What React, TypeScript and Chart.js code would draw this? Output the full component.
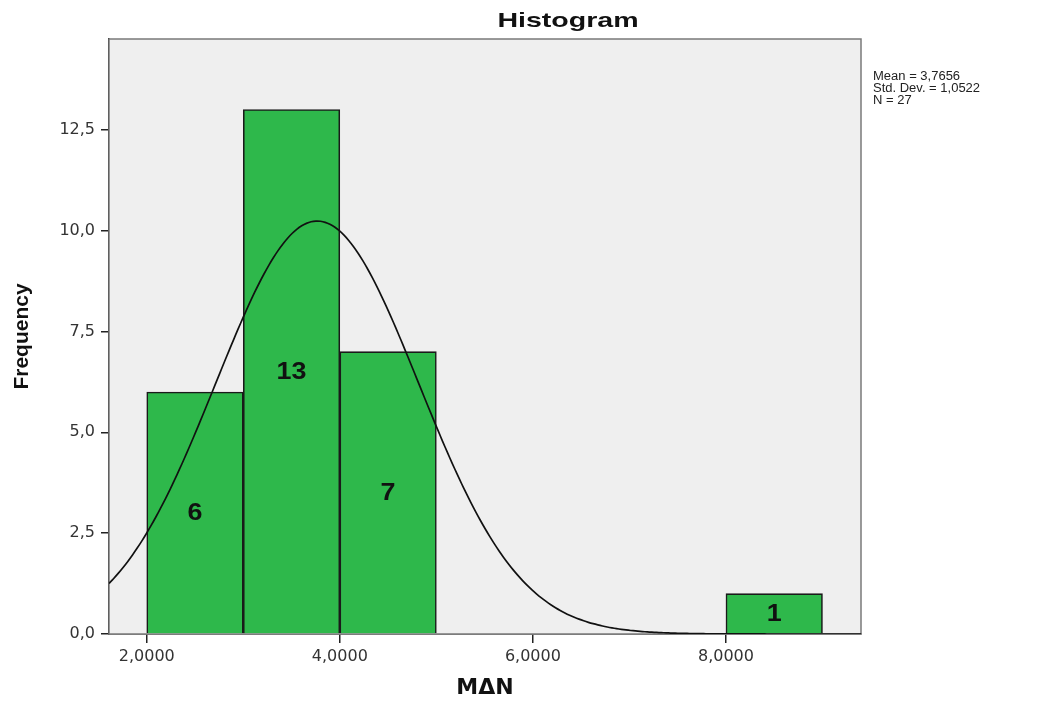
import React, { useEffect, useRef } from "react";
import { Chart, registerables } from "chart.js";

Chart.register(...registerables);

// Histogram bins (bin centres) and counts
const binCenters = [2.5, 3.5, 4.5, 8.5];
const binCounts = [6, 13, 7, 1];
// Summary statistics shown in the chart
const statMean = 3.7656;
const statSD = 1.0522;
const statN = 27;
const binWidth = 1;
// Axis ticks
const xTicks = [2, 4, 6, 8];
const yTicks = [0, 2.5, 5, 7.5, 10, 12.5];
const xMin = 1.609;
const xMax = 9.399;
const yMax = 14.75;
const statLines = ["Mean = 3,7656", "Std. Dev. = 1,0522", "N = 27"];

// Fitted normal curve from the displayed mean / SD / N
const curveXs: number[] = [];
for (let i = 0; i <= 160; i++) curveXs.push(xMin + ((xMax - xMin) * i) / 160);
const curvePoints = curveXs.map((x) => {
  const z = (x - statMean) / statSD;
  return { x, y: (statN * binWidth * Math.exp(-0.5 * z * z)) / (statSD * Math.sqrt(2 * Math.PI)) };
});

const FONT = "Arial, 'Liberation Sans', sans-serif";
const WIDE = "'DejaVu Sans', sans-serif";

function stretchedText(ctx: any, text: string, x: number, y: number, sx: number, align: string) {
  ctx.save();
  ctx.translate(x, y);
  ctx.scale(sx, 1);
  ctx.textAlign = align;
  ctx.fillText(text, 0, 0);
  ctx.restore();
}

const decorPlugin = {
  id: "decor",
  beforeDatasetsDraw(chart: any) {
    const { ctx, chartArea: a } = chart;
    ctx.save();
    ctx.fillStyle = "#efefef";
    ctx.fillRect(a.left, a.top, a.right - a.left, a.bottom - a.top);
    ctx.strokeStyle = "#7a7a7a";
    ctx.lineWidth = 1.5;
    ctx.strokeRect(a.left, a.top, a.right - a.left, a.bottom - a.top);
    ctx.restore();
  },
  afterDraw(chart: any) {
    const { ctx } = chart;
    ctx.save();
    // bar labels
    const meta = chart.getDatasetMeta(0);
    ctx.fillStyle = "#111";
    ctx.font = `bold 24px ${FONT}`;
    ctx.textBaseline = "middle";
    meta.data.forEach((bar: any, i: number) => {
      const yMid = (bar.y + bar.base) / 2;
      stretchedText(ctx, String(binCounts[i]), bar.x, yMid + 1, 1.12, "center");
    });
    // title
    ctx.font = `bold 21px ${FONT}`;
    ctx.fillStyle = "#111";
    stretchedText(ctx, "Histogram", 568, 21, 1.36, "center");
    // stats text
    ctx.font = `12.5px ${FONT}`;
    ctx.fillStyle = "#222";
    statLines.forEach((t, i) => stretchedText(ctx, t, 873, 77 + i * 12, 1.04, "left"));
    ctx.restore();
  },
};

export default function App() {
  const ref = useRef<HTMLCanvasElement | null>(null);
  useEffect(() => {
    if (!ref.current) return;
    const chart = new Chart(ref.current, {
      type: "bar",
      data: {
        datasets: [
          {
            type: "bar",
            data: binCenters.map((x, i) => ({ x, y: binCounts[i] })),
            backgroundColor: "#2eb84b",
            borderColor: "#1a1a1a",
            borderWidth: 1.6,
            barPercentage: 1,
            categoryPercentage: 1,
            order: 2,
          } as any,
          {
            type: "line",
            data: curvePoints,
            borderColor: "#111",
            borderWidth: 1.7,
            pointRadius: 0,
            tension: 0.3,
            fill: false,
            order: 1,
          } as any,
        ],
      },
      options: {
        animation: false,
        responsive: true,
        maintainAspectRatio: false,
        layout: { padding: { left: 0, right: 191, top: 39, bottom: 0 } },
        plugins: { legend: { display: false }, tooltip: { enabled: false } },
        scales: {
          x: {
            type: "linear",
            min: xMin,
            max: xMax,
            offset: false,
            afterFit: (s: any) => { s.height = 70; },
            afterBuildTicks: (s: any) => { s.ticks = xTicks.map((v) => ({ value: v })); },
            grid: { offset: false, drawOnChartArea: false, drawTicks: true, tickLength: 9, color: "#222", lineWidth: 1.5 },
            border: { display: true, color: "#111", width: 1.5 },
            ticks: {
              color: "#333",
              font: { family: WIDE, size: 16 },
              padding: 4,
              maxRotation: 0,
              callback: (v: any) => Number(v).toFixed(4).replace(".", ","),
            },
            title: {
              display: true,
              text: "MΔN",
              color: "#111",
              font: { family: WIDE, size: 22, weight: "bold" },
              padding: { top: 0, bottom: 3 },
            },
          },
          y: {
            type: "linear",
            min: 0,
            max: yMax,
            afterFit: (s: any) => { s.width = 109; },
            afterBuildTicks: (s: any) => { s.ticks = yTicks.map((v) => ({ value: v })); },
            grid: { drawOnChartArea: false, drawTicks: true, tickLength: 8, color: "#222", lineWidth: 1.5 },
            border: { display: true, color: "#111", width: 1.5 },
            ticks: {
              color: "#333",
              font: { family: WIDE, size: 16 },
              padding: 6,
              callback: (v: any) => Number(v).toFixed(1).replace(".", ","),
            },
            title: {
              display: true,
              text: "Frequency",
              color: "#111",
              font: { family: FONT, size: 21, weight: "bold" },
              padding: { top: 10, bottom: 0 },
            },
          },
        },
      } as any,
      plugins: [decorPlugin],
    });
    return () => chart.destroy();
  }, []);
  return (
    <div style={{ position: "fixed", left: 0, top: 0, width: 1052, height: 704, background: "#fff" }}>
      <canvas ref={ref} />
    </div>
  );
}
